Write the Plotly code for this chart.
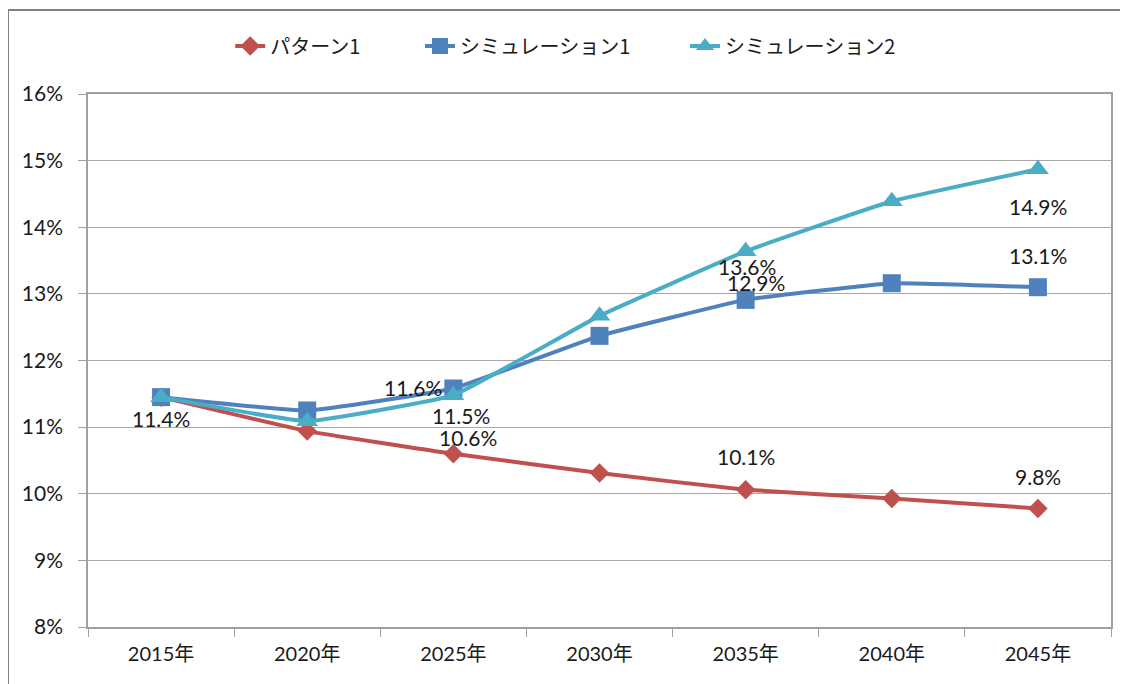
import plotly.graph_objects as go

categories = ["2015年", "2020年", "2025年", "2030年", "2035年", "2040年", "2045年"]
pattern1 = [11.45, 10.94, 10.60, 10.31, 10.06, 9.93, 9.78]
sim1 = [11.45, 11.25, 11.58, 12.37, 12.91, 13.16, 13.10]
sim2 = [11.45, 11.09, 11.48, 12.67, 13.64, 14.39, 14.87]
series_names = ["パターン1", "シミュレーション1", "シミュレーション2"]
y_ticks = [8, 9, 10, 11, 12, 13, 14, 15, 16]
y_tick_text = [f"{v}%" for v in y_ticks]

# labelled points: (series index, category index) and pixel offsets
label_points = [
    (0, 0, 0, -21),
    (1, 2, -40, 1),
    (2, 2, 8, -20),
    (0, 2, 15, 16),
    (1, 4, 10, 17),
    (2, 4, 1, -15),
    (0, 4, 0, 33),
    (1, 6, 0, 32),
    (2, 6, 0, -37),
    (0, 6, 0, 32),
]

colors = ["#C0504D", "#4F81BD", "#4BACC6"]
symbols = ["diamond", "square", "triangle-up"]
sizes = [15, 18, 19]
legend_ids = ["legend", "legend2", "legend3"]
legend_x = [0.139, 0.3245, 0.5836]
FONT = "Lato, Noto Sans CJK JP, sans-serif"
LFONT = "Noto Sans CJK JP, sans-serif"

all_series = [pattern1, sim1, sim2]
fig = go.Figure()
for name, vals, c, s, sz, lg in zip(series_names, all_series, colors, symbols, sizes, legend_ids):
    fig.add_trace(go.Scatter(
        x=categories, y=vals, name=name, mode="lines+markers", legend=lg,
        line=dict(color=c, width=4, shape="spline", smoothing=0.3),
        marker=dict(symbol=s, size=sz, color=c),
    ))

for si, ci, dx, dy in label_points:
    v = all_series[si][ci]
    fig.add_annotation(x=categories[ci], y=v, text=f"{v:.1f}%", showarrow=False,
                       xshift=dx, yshift=dy, font=dict(size=21, color="#1a1a1a", family=FONT))

# outer chart frame
fig.add_shape(type="rect", xref="paper", yref="paper", x0=-0.0782, x1=1.05, y0=-0.2, y1=1.1576,
              line=dict(color="#808080", width=2), fillcolor="rgba(0,0,0,0)", layer="below")

legend_common = dict(orientation="h", xanchor="left", y=1.09, yanchor="middle",
                     font=dict(size=20, family=LFONT), bgcolor="rgba(0,0,0,0)")
fig.update_layout(
    width=1128, height=684,
    margin=dict(l=80, r=25, t=86, b=65, autoexpand=False),
    paper_bgcolor="white", plot_bgcolor="white",
    font=dict(family=FONT, size=21, color="#1a1a1a"),
    showlegend=True,
    legend=dict(x=legend_x[0], **legend_common),
    legend2=dict(x=legend_x[1], **legend_common),
    legend3=dict(x=legend_x[2], **legend_common),
)
fig.update_xaxes(type="category", tickson="boundaries", ticks="outside", ticklen=8,
                 tickcolor="#A0A0A0", showline=True, linecolor="#A0A0A0", linewidth=1.5,
                 mirror=True, showgrid=False, range=[-0.5, 6.5],
                 tickfont=dict(size=20, family=FONT), ticklabelstandoff=8)
fig.update_yaxes(range=[8, 16], tickmode="array", tickvals=y_ticks, ticktext=y_tick_text,
                 ticks="outside", ticklen=8,
                 tickcolor="#A0A0A0", showline=True, linecolor="#A0A0A0", linewidth=1.5,
                 mirror=True, showgrid=True, gridcolor="#A6A6A6", gridwidth=1.2,
                 zeroline=False, tickfont=dict(size=21, family=FONT), ticklabelstandoff=11)

fig.write_html("out.html")
